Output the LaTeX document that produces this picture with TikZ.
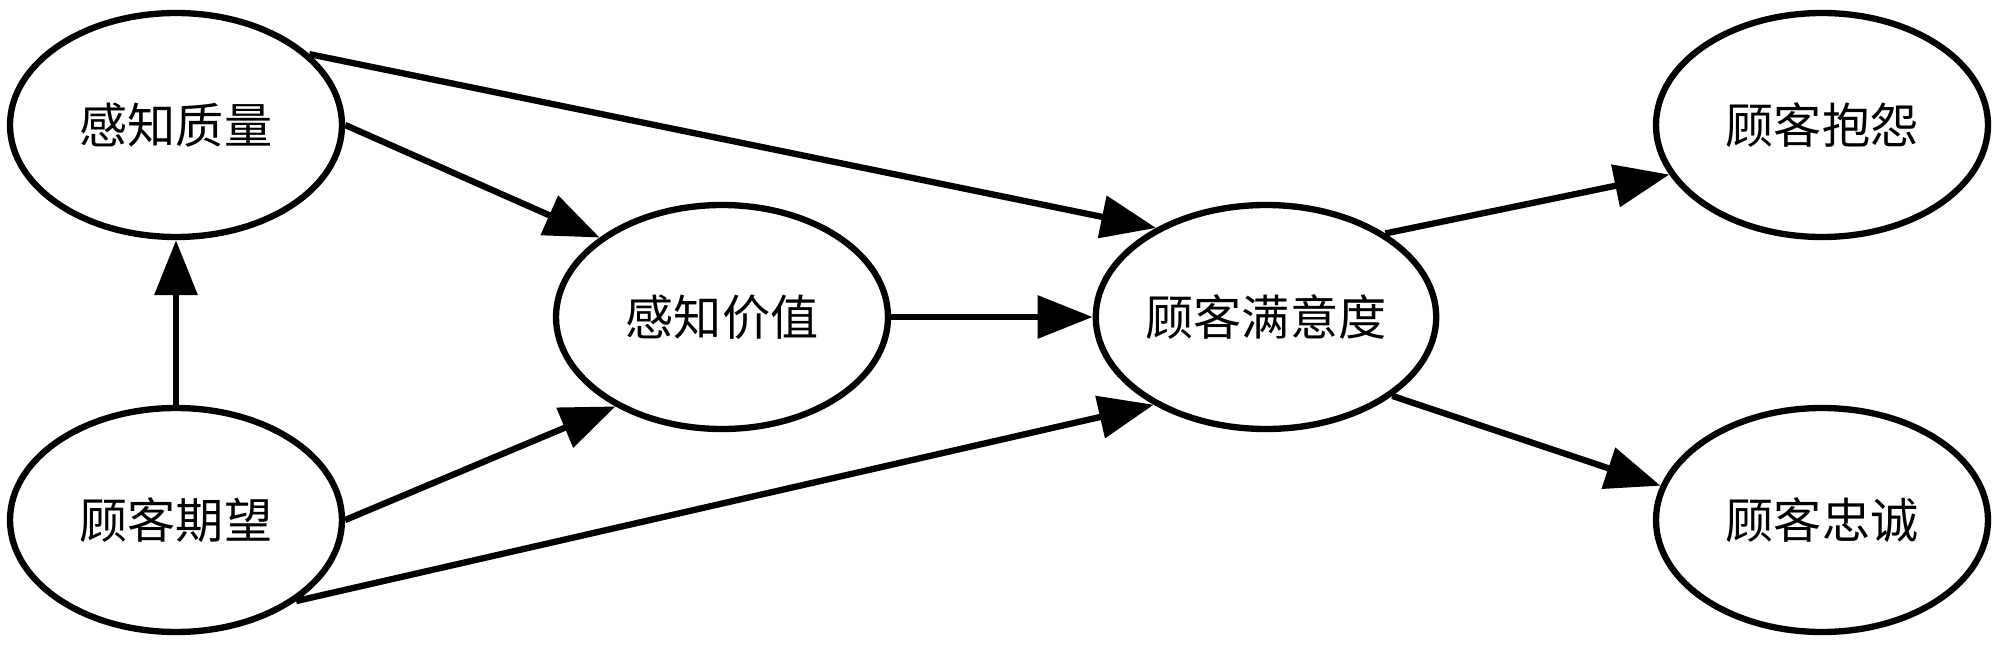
\documentclass[tikz,border=0pt]{standalone}
\usepackage{fontspec}
\newfontfamily\cjk{Noto Sans CJK SC}
\usetikzlibrary{shapes.geometric,arrows.meta}
\tikzset{
  concept/.style={ellipse, draw=black, line width=1.8pt, fill=white,
    minimum width=3.32cm, minimum height=2.24cm, inner sep=0pt,
    font=\cjk\fontsize{13.7pt}{16pt}\selectfont},
  link/.style={line width=1.8pt, -{Triangle[length=5.5mm,width=4.2mm]}}
}
\begin{document}
\begin{tikzpicture}
\useasboundingbox (0,0) rectangle (20,6.46);
\node[concept] (A) at (1.76,5.21) {感知质量};
\node[concept] (B) at (1.76,1.26) {顾客期望};
\node[concept] (C) at (7.22,3.29) {感知价值};
\node[concept] (D) at (12.66,3.29) {顾客满意度};
\node[concept] (E) at (18.22,5.21) {顾客抱怨};
\node[concept] (F) at (18.22,1.26) {顾客忠诚};
\draw[link] (B.90) -- (A.270);
\draw[link] (A.0) -- (C.147);
\draw[link] (B.0) -- (C.220);
\draw[link] (A.28) -- (D.141);
\draw[link] (B.-34) -- (D.218);
\draw[link] (C.0) -- (D.180);
\draw[link] (D.35) -- (E.198);
\draw[link] (D.-32) -- (F.168);
\end{tikzpicture}
\end{document}
